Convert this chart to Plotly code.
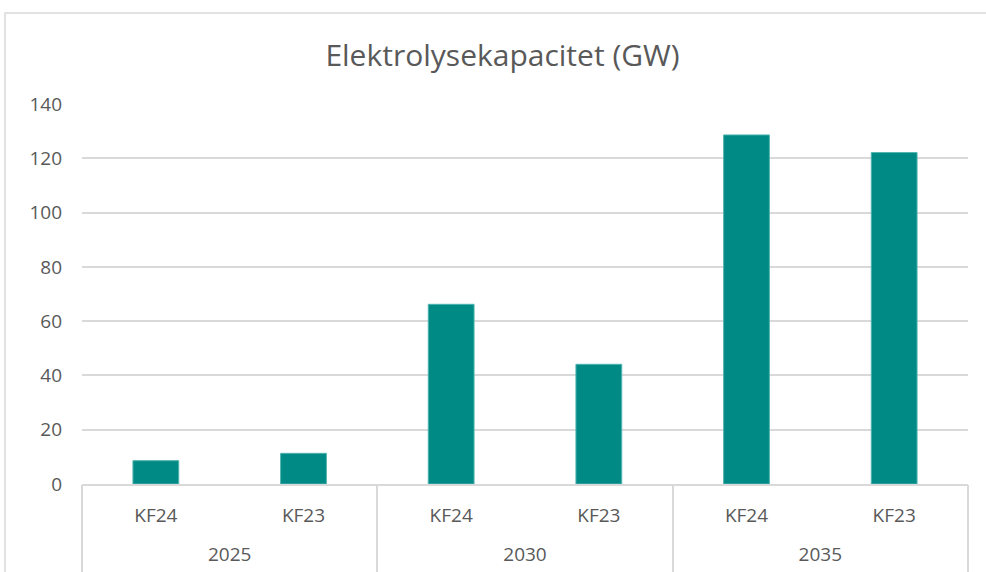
import plotly.graph_objects as go

years = ["2025", "2030", "2035"]
scenarios = ["KF24", "KF23", "KF24", "KF23", "KF24", "KF23"]
capacity_gw = [8.6, 11.3, 66.2, 44.1, 128.6, 122.1]
y_ticks = [0, 20, 40, 60, 80, 100, 120, 140]

FONT = "Open Sans"
GRAY = "#595959"
LINE = "#D9D9D9"

n = len(scenarios)
per_year = n // len(years)
x_pos = list(range(n))
year_pos = [i * per_year + (per_year - 1) / 2 for i in range(len(years))]
divider_pos = [i * per_year - 0.5 for i in range(len(years) + 1)]
x_range = [-0.5, n - 0.5]

fig = go.Figure()
fig.add_trace(go.Bar(
    x=x_pos,
    y=capacity_gw,
    marker=dict(color="#008A86", line=dict(color="#4FB3AF", width=1)),
    width=0.31,
    showlegend=False,
    hovertext=[f"{years[i // per_year]} {s}" for i, s in enumerate(scenarios)],
))
# invisible traces to activate the extra x axes
fig.add_trace(go.Scatter(x=[], y=[], xaxis="x2", showlegend=False))
fig.add_trace(go.Scatter(x=[], y=[], xaxis="x3", showlegend=False))

fig.update_layout(
    width=986, height=572,
    margin=dict(l=82, r=18, t=104, b=88, autoexpand=False),
    paper_bgcolor="white", plot_bgcolor="white",
    title=dict(text="Elektrolysekapacitet (GW)", x=502.5 / 986, xanchor="center",
               y=1 - 55 / 572, yanchor="middle",
               font=dict(family=FONT, size=30, color=GRAY)),
    font=dict(family=FONT, size=19, color=GRAY),
    xaxis=dict(range=x_range, tickvals=x_pos, ticktext=scenarios, showgrid=False,
               zeroline=False, showline=True, linecolor=LINE, linewidth=1.5,
               ticks="", ticklabelstandoff=13, automargin=False,
               tickfont=dict(family=FONT, size=19, color=GRAY)),
    xaxis2=dict(range=x_range, overlaying="x", side="bottom", anchor="y",
                tickvals=year_pos, ticktext=years, showgrid=False, zeroline=False,
                showline=False, ticks="", ticklabelstandoff=57, automargin=False,
                tickfont=dict(family=FONT, size=19, color=GRAY)),
    xaxis3=dict(range=x_range, overlaying="x", side="bottom", anchor="y",
                tickvals=divider_pos, showticklabels=False, showgrid=False,
                zeroline=False, showline=False, ticks="outside", ticklen=100,
                tickcolor=LINE, tickwidth=1.5, automargin=False),
    yaxis=dict(range=[0, 140], tickvals=y_ticks, showgrid=True, gridcolor=LINE,
               gridwidth=1.5, zeroline=False, ticks="", ticklabelstandoff=19,
               automargin=False,
               tickfont=dict(family=FONT, size=19, color=GRAY)),
    shapes=[dict(type="rect", xref="paper", yref="paper",
                 x0=(5 - 82) / 886, x1=(995 - 82) / 886, y0=-0.5, y1=(484 - 13) / 380,
                 line=dict(color=LINE, width=1.5), fillcolor="rgba(0,0,0,0)", layer="below")],
)

fig.write_html("out.html", config={"displayModeBar": False},
               post_script="document.body.style.margin='0';")
